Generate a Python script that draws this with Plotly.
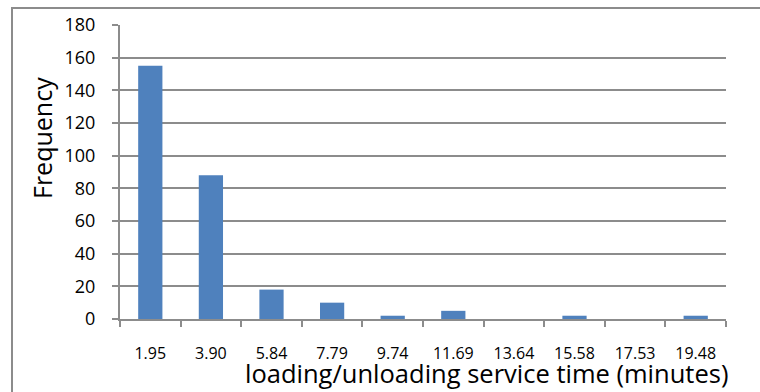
import plotly.graph_objects as go

# Histogram bins (upper bin edge, minutes) and observed counts
bins = ["1.95", "3.90", "5.84", "7.79", "9.74", "11.69", "13.64", "15.58", "17.53", "19.48"]
counts = [155, 88, 18, 10, 2, 5, 0, 2, 0, 2]
y_ticks = [0, 20, 40, 60, 80, 100, 120, 140, 160, 180]

FONT = "Open Sans"
GRID = "#8c8c8c"

fig = go.Figure(
    go.Bar(
        x=bins,
        y=counts,
        marker=dict(color="#4f81bd", line=dict(width=0)),
        width=0.4,
    )
)

fig.update_layout(
    width=760,
    height=392,
    margin=dict(l=120, r=34, t=25, b=73),
    paper_bgcolor="white",
    plot_bgcolor="white",
    showlegend=False,
    font=dict(family=FONT, color="#000000"),
    xaxis=dict(
        type="category",
        showgrid=False,
        showline=True,
        linecolor=GRID,
        linewidth=2,
        ticks="outside",
        tickson="boundaries",
        ticklen=6,
        tickcolor=GRID,
        tickwidth=2,
        tickfont=dict(size=16, family=FONT),
        ticklabelstandoff=19,
        tickangle=0,
    ),
    yaxis=dict(
        range=[0, 180],
        tickvals=y_ticks,
        showgrid=True,
        gridcolor=GRID,
        gridwidth=2,
        showline=True,
        linecolor=GRID,
        linewidth=2,
        ticks="outside",
        ticklen=6,
        tickcolor=GRID,
        tickwidth=2,
        tickfont=dict(size=18, family=FONT),
        ticklabelstandoff=13,
        zeroline=False,
    ),
    shapes=[
        dict(
            type="rect", xref="paper", yref="paper",
            x0=-108 / 606, x1=1.1, y0=-0.3, y1=1 + 17 / 294,
            line=dict(color="#8c8c8c", width=2), fillcolor="rgba(0,0,0,0)",
            layer="below",
        )
    ],
    annotations=[
        dict(
            text="Frequency", xref="paper", yref="paper",
            x=-78 / 606, y=(319 - 138) / 294, textangle=-90,
            showarrow=False, font=dict(size=25, family=FONT),
            xanchor="center", yanchor="middle",
        ),
        dict(
            text="loading/unloading service time (minutes)", xref="paper", yref="paper",
            x=(487 - 120) / 606, y=-(373 - 319) / 294,
            showarrow=False, font=dict(size=25.5, family=FONT),
            xanchor="center", yanchor="middle",
        ),
    ],
)

fig.write_html("out.html")
